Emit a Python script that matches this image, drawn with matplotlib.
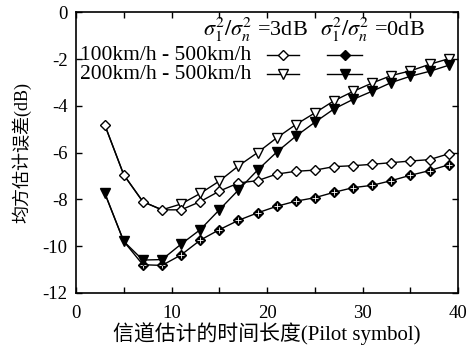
import numpy as np
import matplotlib
matplotlib.use("Agg")
import matplotlib.pyplot as plt
from matplotlib.ticker import MultipleLocator

plt.rcParams["font.family"] = ["Liberation Serif", "Noto Sans CJK SC"]
plt.rcParams["mathtext.fontset"] = "stix"
plt.rcParams["axes.unicode_minus"] = False

# pilot length (symbols)
x = np.arange(3, 40, 2)

# 100km/h - 500km/h, sigma ratio 3dB (open diamond)
d3 = [-4.8, -6.95, -8.1, -8.45, -8.45, -8.1, -7.65, -7.3, -7.2, -6.92,
      -6.8, -6.75, -6.6, -6.56, -6.5, -6.43, -6.36, -6.3, -6.05]
# 200km/h - 500km/h, 3dB (open triangle) - first 4 points coincide with d3
t3 = [-4.8, -6.95, -8.1, -8.45, -8.2, -7.75, -7.22, -6.57, -6.0, -5.37,
      -4.8, -4.3, -3.78, -3.38, -3.02, -2.7, -2.5, -2.22, -1.98]
# 200km/h - 500km/h, 0dB (filled triangle)
t0 = [-7.72, -9.8, -10.6, -10.58, -9.92, -9.3, -8.45, -7.6, -6.75, -5.98,
      -5.3, -4.7, -4.13, -3.72, -3.37, -3.0, -2.73, -2.52, -2.26]
# 100km/h - 500km/h, 0dB (filled diamond) - first 2 points coincide with t0
d0 = [-7.72, -9.8, -10.8, -10.83, -10.38, -9.75, -9.3, -8.9, -8.58, -8.3,
      -8.08, -7.93, -7.7, -7.5, -7.4, -7.2, -6.97, -6.77, -6.52]

row_labels = ["100km/h - 500km/h", "200km/h - 500km/h"]
col_labels = [r"$\sigma_1^2/\sigma_n^2$ =3dB", r"$\sigma_1^2/\sigma_n^2$ =0dB"]

fig = plt.figure(figsize=(4.69, 3.57), dpi=100)
ax = fig.add_axes([0.162, 0.180, 0.815, 0.785])

kw = dict(color="black", lw=1.0)
ax.plot(x, t3, marker="v", ms=6.5, mfc="white", mec="black", mew=1.0,
        markevery=slice(4, None), **kw)
ax.plot(x, d3, marker="D", ms=5, mfc="white", mec="black", mew=1.0, **kw)
ax.plot(x, d0, marker="D", ms=5, mfc="black", mec="black", mew=1.0,
        markevery=slice(2, None), **kw)
ax.plot(x, d0, ls="none", marker="+", ms=4, mec="white", mew=0.6,
        markevery=slice(2, None))
ax.plot(x, t0, marker="v", ms=6.5, mfc="black", mec="black", mew=1.0, **kw)

# hand-made legend block
ax.text(0.333, 0.9375, col_labels[0], transform=ax.transAxes, ha="left",
        va="center", fontsize=16)
ax.text(0.639, 0.9375, col_labels[1], transform=ax.transAxes, ha="left",
        va="center", fontsize=16)
styles = [
    [dict(marker="D", ms=5, mfc="white"), dict(marker="D", ms=5, mfc="black")],
    [dict(marker="v", ms=6.5, mfc="white"), dict(marker="v", ms=6.5, mfc="black")],
]
for i, (lab, yy) in enumerate(zip(row_labels, [0.847, 0.78])):
    ax.text(0.0105, yy, lab, transform=ax.transAxes, ha="left", va="center",
            fontsize=15.5)
    for j, xs in enumerate([(0.50, 0.584), (0.657, 0.749)]):
        ax.plot(xs, [yy, yy], transform=ax.transAxes, color="black", lw=1.0)
        ax.plot([np.mean(xs)], [yy], transform=ax.transAxes, ls="none",
                mec="black", mew=1.0, **styles[i][j])

ax.set_xlim(0, 40)
ax.set_ylim(-12, 0)
ax.xaxis.set_major_locator(MultipleLocator(10))
ax.xaxis.set_minor_locator(MultipleLocator(5))
ax.yaxis.set_major_locator(MultipleLocator(2))
ax.tick_params(which="both", direction="in", top=True, right=True,
               labelsize=13.5, width=1.0)
ax.tick_params(which="major", length=4)
ax.tick_params(which="minor", length=4)
ax.tick_params(axis="x", pad=9)
ax.tick_params(axis="y", pad=6)
for s in ax.spines.values():
    s.set_linewidth(1.2)

ax.set_xlabel("信道估计的时间长度(Pilot symbol)", fontsize=15, labelpad=0)
ax.set_ylabel("均方估计误差(dB)", fontsize=13, labelpad=8)

fig.savefig("out.png", dpi=100)
